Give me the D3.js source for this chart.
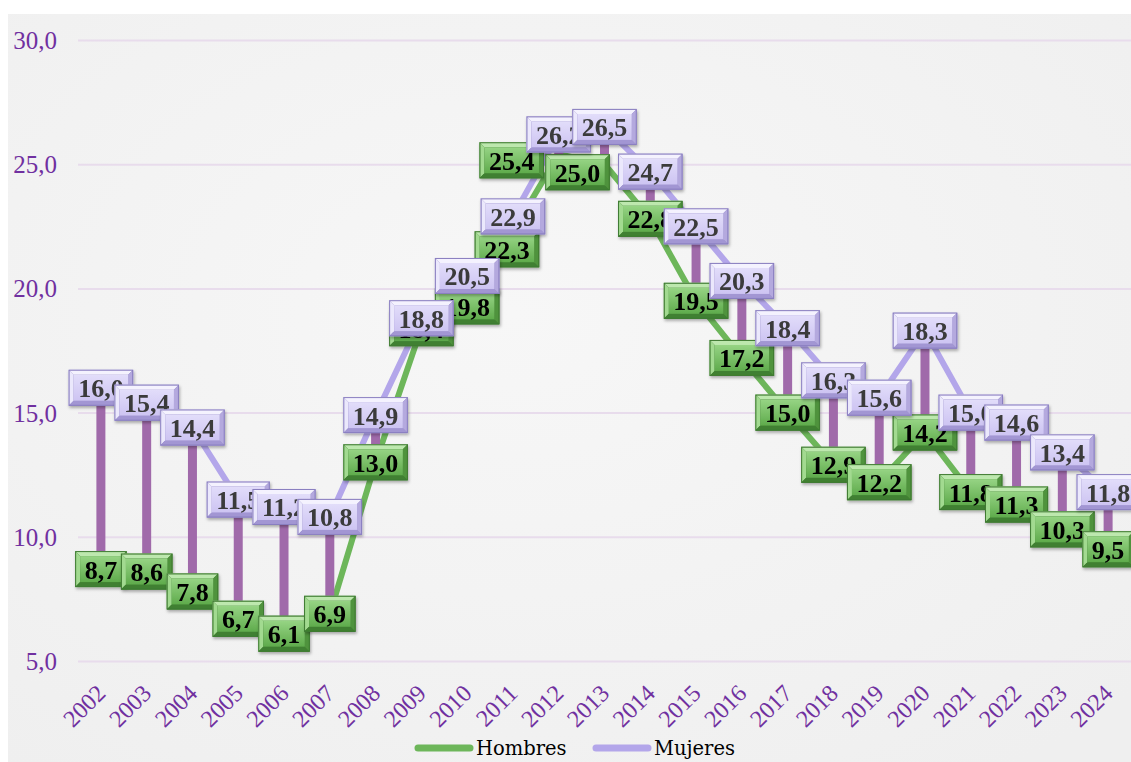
<!DOCTYPE html>
<html>
<head>
<meta charset="utf-8">
<script src="https://cdn.jsdelivr.net/npm/d3@7"></script>
<style>
  html, body { margin: 0; padding: 0; background: #ffffff; }
  svg { display: block; }
</style>
</head>
<body>
<svg id="chart"></svg>
<script>
// datos
var years = ["2002","2003","2004","2005","2006","2007","2008","2009","2010","2011","2012",
             "2013","2014","2015","2016","2017","2018","2019","2020","2021","2022","2023","2024"];
var hombres = [8.7, 8.6, 7.8, 6.7, 6.1, 6.9, 13.0, 18.4, 19.8, 22.3, 25.4, 25.0,
               22.8, 19.5, 17.2, 15.0, 12.9, 12.2, 14.2, 11.8, 11.3, 10.3, 9.5];
var mujeres = [16.0, 15.4, 14.4, 11.5, 11.2, 10.8, 14.9, 18.8, 20.5, 22.9, 26.2, 26.5,
               24.7, 22.5, 20.3, 18.4, 16.3, 15.6, 18.3, 15.0, 14.6, 13.4, 11.8];
var yTicks = [5, 10, 15, 20, 25, 30];
var seriesNames = ["Hombres", "Mujeres"];

// etiquetas de Hombres movidas a mano en el original (px)
var nudgeH = {"2010": [0, 13], "2011": [-6, 18], "2012": [-47, 6], "2013": [-27, 8]};

var width = 1131, height = 762;

var es = d3.formatLocale({decimal: ",", thousands: ".", grouping: [3], currency: ["", " €"]});
var fmt = es.format(".1f");

var svg = d3.select("#chart").attr("width", width).attr("height", height);
var defs = svg.append("defs");

// fondo del grafico
var bg = defs.append("radialGradient").attr("id", "bgGrad")
  .attr("cx", "45%").attr("cy", "40%").attr("r", "75%");
bg.append("stop").attr("offset", "0%").attr("stop-color", "#f7f7f7");
bg.append("stop").attr("offset", "100%").attr("stop-color", "#efefef");

function faceGrad(id, top, bottom){
  var g = defs.append("linearGradient").attr("id", id)
    .attr("x1", 0).attr("y1", 0).attr("x2", 0).attr("y2", 1);
  g.append("stop").attr("offset", "0%").attr("stop-color", top);
  g.append("stop").attr("offset", "100%").attr("stop-color", bottom);
}
faceGrad("faceH", "#96d484", "#5fab4c");
faceGrad("faceM", "#e2ddfa", "#cdc4f2");

var shadow = defs.append("filter").attr("id", "shadow")
  .attr("x", "-20%").attr("y", "-20%").attr("width", "140%").attr("height", "160%");
shadow.append("feDropShadow").attr("dx", 1).attr("dy", 2)
  .attr("stdDeviation", 1.5).attr("flood-color", "#000").attr("flood-opacity", 0.3);

svg.append("rect").attr("x", 8).attr("y", 14)
  .attr("width", width - 8).attr("height", height - 14)
  .style("fill", "url(#bgGrad)");

var xScale = d3.scalePoint().domain(years).range([78, 1131]).padding(0.5);
var yScale = d3.scaleLinear().domain([5, 30]).range([661, 40]);

// rejilla
var grid = svg.append("g")
  .attr("transform", "translate(78,0)")
  .call(d3.axisLeft(yScale).tickValues(yTicks).tickSize(-(1131 - 78)).tickFormat(""));
grid.select(".domain").remove();
grid.selectAll("line").style("stroke", "#e8dcec").style("stroke-width", 2);

// eje y
var yAxis = svg.append("g")
  .attr("transform", "translate(57,0)")
  .call(d3.axisLeft(yScale).tickValues(yTicks).tickSize(0).tickPadding(0).tickFormat(fmt));
yAxis.select(".domain").remove();
yAxis.selectAll("text")
  .attr("dy", null)
  .style("dominant-baseline", "central")
  .style("font-family", "'Liberation Serif', 'Times New Roman', serif")
  .style("font-size", "25px")
  .style("fill", "#7030a0");

// eje x
var xAxis = svg.append("g")
  .attr("transform", "translate(0,689)")
  .call(d3.axisBottom(xScale).tickSize(0).tickPadding(0));
xAxis.select(".domain").remove();
xAxis.selectAll("text")
  .attr("dy", null).attr("y", 0)
  .attr("transform", "rotate(-45)")
  .style("text-anchor", "end")
  .style("dominant-baseline", "central")
  .style("font-family", "'Liberation Serif', 'Times New Roman', serif")
  .style("font-size", "24px")
  .style("fill", "#7030a0");

// lineas
var line = d3.line().x(function(d, i){ return xScale(years[i]); }).y(function(d){ return yScale(d); });

svg.append("path").datum(hombres)
  .attr("d", line)
  .style("fill", "none").style("stroke", "#6db65a").style("stroke-width", 6)
  .style("stroke-linejoin", "round").style("stroke-linecap", "round");

svg.append("path").datum(mujeres)
  .attr("d", line)
  .style("fill", "none").style("stroke", "#b3a6ea").style("stroke-width", 6)
  .style("stroke-linejoin", "round").style("stroke-linecap", "round");

// lineas de maximos y minimos
svg.append("g").selectAll("line")
  .data(years)
  .enter().append("line")
  .attr("x1", function(d){ return xScale(d); })
  .attr("x2", function(d){ return xScale(d); })
  .attr("y1", function(d, i){ return yScale(Math.max(hombres[i], mujeres[i])); })
  .attr("y2", function(d, i){ return yScale(Math.min(hombres[i], mujeres[i])); })
  .style("stroke", "#a06aaa").style("stroke-width", 9);

// etiquetas con bisel
function drawLabels(values, cls, colors, nudge){
  var g = svg.append("g").attr("class", cls);
  values.forEach(function(v, i){
    var off = (nudge && nudge[years[i]]) || [0, 0];
    var cx = xScale(years[i]) + off[0], cy = yScale(v) + off[1];
    var lab = g.append("g").attr("filter", "url(#shadow)");
    var txt = lab.append("text")
      .attr("x", cx).attr("y", cy + 1)
      .attr("text-anchor", "middle")
      .attr("dominant-baseline", "central")
      .style("font-family", "'Liberation Serif', 'Times New Roman', serif")
      .style("font-weight", "bold")
      .style("font-size", "26px")
      .style("fill", colors.text)
      .text(fmt(v));
    var tw = txt.node().getComputedTextLength();
    var w = tw + 19, h = 36, b = 5;
    var x0 = cx - w / 2, y0 = cy - h / 2;
    var box = lab.insert("g", "text");
    box.append("rect").attr("x", x0).attr("y", y0).attr("width", w).attr("height", h)
      .style("fill", colors.border);
    var p = function(pts){ return pts.map(function(q){ return q.join(","); }).join(" "); };
    box.append("polygon").attr("points", p([[x0,y0],[x0+w,y0],[x0+w-b,y0+b],[x0+b,y0+b]])).style("fill", colors.top);
    box.append("polygon").attr("points", p([[x0,y0],[x0+b,y0+b],[x0+b,y0+h-b],[x0,y0+h]])).style("fill", colors.left);
    box.append("polygon").attr("points", p([[x0,y0+h],[x0+b,y0+h-b],[x0+w-b,y0+h-b],[x0+w,y0+h]])).style("fill", colors.bottom);
    box.append("polygon").attr("points", p([[x0+w,y0],[x0+w,y0+h],[x0+w-b,y0+h-b],[x0+w-b,y0+b]])).style("fill", colors.right);
    box.append("rect").attr("x", x0 + b).attr("y", y0 + b).attr("width", w - 2 * b).attr("height", h - 2 * b)
      .style("fill", colors.face);
    box.append("rect").attr("x", x0 + 0.5).attr("y", y0 + 0.5).attr("width", w - 1).attr("height", h - 1)
      .style("fill", "none").style("stroke", colors.border).style("stroke-width", 1);
  });
}

drawLabels(hombres, "labH", {
  text: "#000000", border: "#3f7a32", face: "url(#faceH)",
  top: "#bde8ae", left: "#a2da90", bottom: "#3f8030", right: "#50933d"
}, nudgeH);
drawLabels(mujeres, "labM", {
  text: "#3a3a3a", border: "#8a7fc0", face: "url(#faceM)",
  top: "#f4f2fe", left: "#ebe8fc", bottom: "#a296d3", right: "#b4a9de"
}, null);

// leyenda
var legend = svg.append("g").attr("transform", "translate(415,748)");
var legendColors = ["#6db65a", "#b3a6ea"];
var legendX = [0, 178];
seriesNames.forEach(function(name, i){
  var lg = legend.append("g").attr("transform", "translate(" + legendX[i] + ",0)");
  lg.append("line").attr("x1", 3).attr("x2", 55).attr("y1", 0).attr("y2", 0)
    .style("stroke", legendColors[i]).style("stroke-width", 7).style("stroke-linecap", "round");
  lg.append("text").attr("x", 61).attr("y", 0)
    .attr("dominant-baseline", "central")
    .style("font-family", "'DejaVu Serif', serif")
    .style("font-size", "19.5px")
    .style("fill", "#000")
    .text(name);
});
</script>
</body>
</html>
